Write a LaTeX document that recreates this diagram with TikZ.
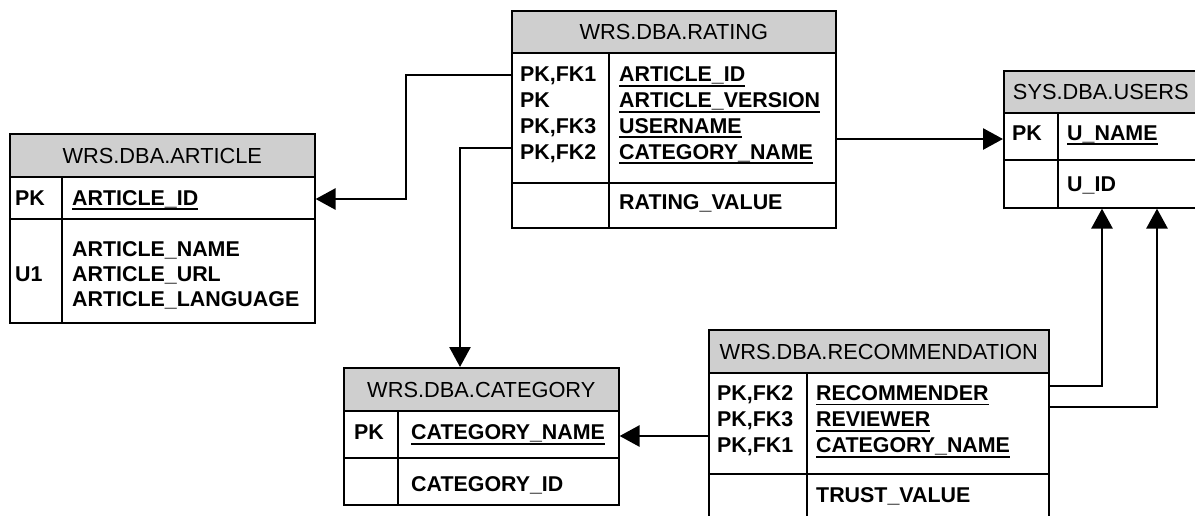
\documentclass[tikz,border=0pt]{standalone}
\usepackage{fontspec}
\setmainfont{Liberation Sans}
\usetikzlibrary{arrows.meta}
\definecolor{hdrgray}{RGB}{207,207,207}
% key attribute: text with a solid underline
\newcommand\keyname[1]{\setbox0\hbox{#1}\rlap{\rule[-5pt]{\wd0}{1.9pt}}\box0}

\begin{document}
\begin{tikzpicture}[x=1pt,y=-1pt,
  frame/.style={draw, line width=1.6pt, inner sep=0pt, anchor=north west, fill=white},
  hdr/.style={frame, fill=hdrgray, font=\fontsize{21.8}{26}\selectfont, text height=15.6pt, text depth=0pt},
  grid/.style={line width=1.6pt},
  fld/.style={font=\bfseries\fontsize{21.4}{25}\selectfont, anchor=west, inner sep=0pt, text height=15.3pt, text depth=0pt},
  fk/.style={line width=2.8pt, -{Triangle[length=20pt,width=21pt]}},
]
\clip (0,0) rectangle (1195,515);
\fill[white] (0,0) rectangle (1195,515);

% ---------- WRS.DBA.ARTICLE ----------
\node[frame, minimum width=305pt, minimum height=189pt] (article) at (9,133) {};
\node[hdr, minimum width=305pt, minimum height=43pt] (article-h) at (9,133) {WRS.DBA.ARTICLE};
\draw[grid] (article.west |- 0,219) -- (article.east |- 0,219);
\draw[grid] (article-h.south -| 62,0) -- (article.south -| 62,0);
\node[fld] (a-pk) at (15,197.5) {PK};
\node[fld] (a-id) at (72,197.5) {\keyname{ARTICLE\_ID}};
\node[fld] (a-u1) at (15,274) {U1};
\node[fld] (a-name) at (72,249) {ARTICLE\_NAME};
\node[fld] (a-url) at (72,274) {ARTICLE\_URL};
\node[fld] (a-lang) at (72,299) {ARTICLE\_LANGUAGE};

% ---------- WRS.DBA.RATING ----------
\node[frame, minimum width=324pt, minimum height=217pt] (rating) at (511,10) {};
\node[hdr, minimum width=324pt, minimum height=42pt] (rating-h) at (511,10) {WRS.DBA.RATING};
\draw[grid] (rating.west |- 0,183) -- (rating.east |- 0,183);
\draw[grid] (rating-h.south -| 609,0) -- (rating.south -| 609,0);
\node[fld] (r-k1) at (520,74.3) {PK,FK1};
\node[fld] (r-k2) at (520,100) {PK};
\node[fld] (r-k3) at (520,125.7) {PK,FK3};
\node[fld] (r-k4) at (520,151.4) {PK,FK2};
\node[fld] (r-aid) at (619,74.3) {\keyname{ARTICLE\_ID}};
\node[fld] (r-aver) at (619,100) {\keyname{ARTICLE\_VERSION}};
\node[fld] (r-user) at (619,125.7) {\keyname{USERNAME}};
\node[fld] (r-cat) at (619,151.4) {\keyname{CATEGORY\_NAME}};
\node[fld] (r-val) at (619,202) {RATING\_VALUE};

% ---------- SYS.DBA.USERS ----------
\node[frame, minimum width=194pt, minimum height=137pt] (users) at (1003,70) {};
\node[hdr, minimum width=194pt, minimum height=42pt] (users-h) at (1003,70) {SYS.DBA.USERS};
\draw[grid] (users.west |- 0,160) -- (users.east |- 0,160);
\draw[grid] (users-h.south -| 1058,0) -- (users.south -| 1058,0);
\node[fld] (u-pk) at (1012,132.5) {PK};
\node[fld] (u-name) at (1067,132.5) {\keyname{U\_NAME}};
\node[fld] (u-id) at (1067,184) {U\_ID};

% ---------- WRS.DBA.CATEGORY ----------
\node[frame, minimum width=275pt, minimum height=137pt] (category) at (343,367) {};
\node[hdr, minimum width=275pt, minimum height=43pt] (category-h) at (343,367) {WRS.DBA.CATEGORY};
\draw[grid] (category.west |- 0,458) -- (category.east |- 0,458);
\draw[grid] (category-h.south -| 398,0) -- (category.south -| 398,0);
\node[fld] (c-pk) at (354,432) {PK};
\node[fld] (c-name) at (411,432) {\keyname{CATEGORY\_NAME}};
\node[fld] (c-id) at (411,484) {CATEGORY\_ID};

% ---------- WRS.DBA.RECOMMENDATION ----------
\node[frame, minimum width=340pt, minimum height=210pt] (recommendation) at (708,329) {};
\node[hdr, minimum width=340pt, minimum height=43pt] (recommendation-h) at (708,329) {WRS.DBA.RECOMMENDATION};
\draw[grid] (recommendation.west |- 0,474) -- (recommendation.east |- 0,474);
\draw[grid] (recommendation-h.south -| 807,0) -- (recommendation.south -| 807,0);
\node[fld] (m-k1) at (717,392.8) {PK,FK2};
\node[fld] (m-k2) at (717,418.9) {PK,FK3};
\node[fld] (m-k3) at (717,445) {PK,FK1};
\node[fld] (m-rec) at (816,392.8) {\keyname{RECOMMENDER}};
\node[fld] (m-rev) at (816,418.9) {\keyname{REVIEWER}};
\node[fld] (m-cat) at (816,445) {\keyname{CATEGORY\_NAME}};
\node[fld] (m-trust) at (816,495.3) {TRUST\_VALUE};

% ---------- foreign-key references ----------
\draw[fk] (rating.west |- 0,75) -| (406,199) -- (article.east |- 0,199);
\draw[fk] (rating.west |- 0,148) -| (category.north -| 460,0);
\draw[fk] (rating.east |- 0,139) -- (users.west |- 0,139);
\draw[fk] (recommendation.east |- 0,386) -| (users.south -| 1102,0);
\draw[fk] (recommendation.east |- 0,407) -| (users.south -| 1157,0);
\draw[fk] (recommendation.west |- 0,436) -- (category.east |- 0,436);
\end{tikzpicture}
\end{document}
